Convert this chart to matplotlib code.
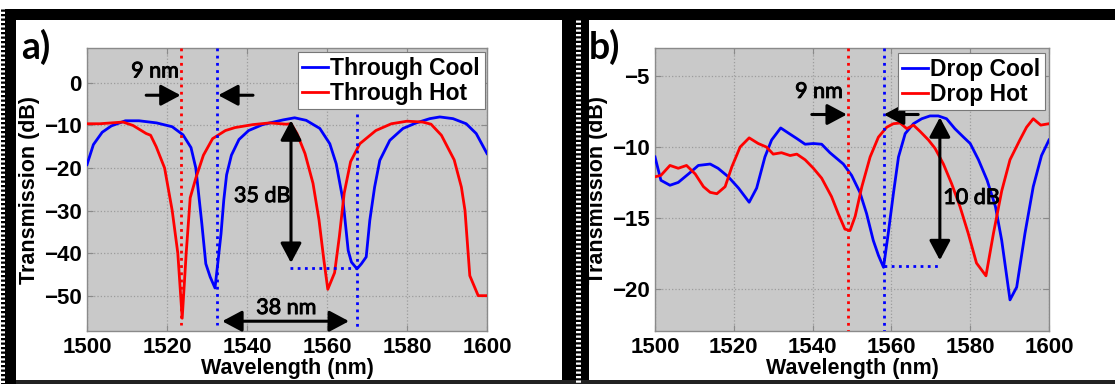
import matplotlib
matplotlib.use("Agg")
import matplotlib.pyplot as plt
import matplotlib.patheffects as pe
from matplotlib.patches import Rectangle, ArrowStyle
from matplotlib.lines import Line2D

# ---------------- data ----------------
# (a) through port
wl_through_cool = [1500, 1501.6, 1503.8, 1506.1, 1509.6, 1513, 1517.4, 1521.3, 1524, 1526,
                   1527.2, 1527.9, 1528.7, 1529.7, 1530.8, 1532, 1532.8, 1533.5, 1534.2, 1534.9,
                   1536.1, 1538, 1540.4, 1543.9, 1549, 1551.9, 1554.8, 1558.2, 1560.7, 1562.3,
                   1564, 1565.3, 1566.1, 1567.5, 1568.6, 1569.8, 1570.7, 1571.9, 1573.2, 1575.7,
                   1579, 1582.3, 1585.7, 1588.2, 1591.5, 1594.8, 1597.3, 1600]
tr_through_cool = [-19.2, -14.5, -11.6, -10.1, -8.9, -8.9, -9.4, -10.3, -12.2, -15.2,
                   -20, -26, -33, -42.5, -45.6, -48.2, -41.5, -35.5, -27.5, -21.6,
                   -17, -13.3, -11.2, -9.8, -8.7, -8.2, -8.8, -10.7, -14.3, -19,
                   -27.6, -39.4, -42.1, -43.7, -42.5, -40.9, -32.3, -24.5, -18.2, -13.5,
                   -10.7, -9.4, -8.4, -8.0, -8.4, -9.6, -11.9, -16.6]

wl_through_hot = [1500, 1503.2, 1509, 1511.5, 1514.8, 1515.9, 1517.3, 1519.4, 1521.3, 1522.7,
                  1523.8, 1524.8, 1525.8, 1527.2, 1529.1, 1531.4, 1534.6, 1537, 1541.5, 1545.7,
                  1549.8, 1551, 1552.5, 1554.5, 1556.5, 1558, 1559.2, 1560.2, 1561.9, 1563.1,
                  1564.3, 1565.9, 1568.2, 1572.2, 1576.1, 1580, 1583.9, 1586, 1588.6, 1591.8,
                  1593.6, 1594.5, 1595.7, 1597.8, 1600]
tr_through_hot = [-9.6, -9.6, -9.2, -10, -11.9, -12.3, -15, -20, -30, -40,
                  -55.3, -40, -27, -22.4, -17, -13.1, -11.2, -10.5, -9.8, -9.4,
                  -9.7, -9.6, -11.9, -16.6, -23.6, -32.2, -41.5, -48.5, -44.6, -36,
                  -25.9, -18.5, -14.3, -11.2, -9.6, -9.0, -9.2, -9.7, -12.3, -18.1,
                  -24.5, -30, -45.3, -50, -50]

# (b) drop port
wl_drop_cool = [1500, 1501.5, 1503.8, 1505.9, 1508.5, 1511, 1514, 1516, 1518.6, 1521.2,
                1523.9, 1525.8, 1527.9, 1529.6, 1531.9, 1533.8, 1536, 1538.1, 1540.2, 1542.3,
                1544.4, 1547.8, 1549.9, 1552, 1553.7, 1555.4, 1556.7, 1558, 1559.2, 1560.5,
                1561.8, 1563.5, 1565.6, 1567.7, 1569.8, 1571.9, 1574, 1576.1, 1578.3, 1580,
                1582.1, 1584.3, 1586.4, 1588, 1590.1, 1591.8, 1593.9, 1596, 1598.1, 1600]
tr_drop_cool = [-10.7, -12.35, -12.7, -12.5, -11.9, -11.3, -11.2, -11.5, -12.1, -12.9,
                -13.9, -12.9, -10.7, -9.5, -8.65, -9.0, -9.4, -9.8, -9.75, -9.8,
                -10.4, -11.2, -12.0, -13.2, -14.7, -16.6, -17.65, -18.5, -16.1, -13.3,
                -10.7, -9.05, -8.35, -8.0, -7.8, -7.8, -8.0, -8.7, -9.3, -9.75,
                -10.9, -12.35, -14.2, -16.6, -20.8, -19.9, -16.1, -12.8, -10.6, -9.5]

wl_drop_hot = [1500, 1501.5, 1503.8, 1505.9, 1508, 1510.2, 1512.3, 1514, 1515.7, 1517.8,
               1519.5, 1521.6, 1523.9, 1526.2, 1528.3, 1530, 1532.1, 1534.3, 1536, 1538.1,
               1540.2, 1542.3, 1544.8, 1546.5, 1548.2, 1549.5, 1550.8, 1552.5, 1554.6, 1556.7,
               1558.8, 1560.5, 1562.2, 1563.9, 1565.6, 1567.3, 1569.4, 1571.1, 1573.2, 1575.3,
               1577.4, 1579.5, 1581.6, 1584, 1585.9, 1588, 1590.1, 1592.6, 1594.3, 1596,
               1597.9, 1600]
tr_drop_hot = [-12.1, -12.0, -11.3, -11.5, -11.3, -11.9, -12.8, -13.2, -13.3, -12.8,
               -11.4, -10.0, -9.35, -9.75, -10.0, -10.5, -10.4, -10.6, -10.5, -10.9,
               -11.5, -12.2, -13.5, -14.7, -15.8, -15.9, -14.9, -12.8, -10.7, -9.3,
               -8.6, -8.35, -8.3, -8.7, -8.45, -8.9, -9.5, -10.1, -11.2, -12.6,
               -14.2, -16.1, -18.2, -19.1, -16.1, -13.1, -10.9, -9.5, -8.6, -8.0,
               -8.45, -8.35]

# resonance markers and annotated quantities
res_a_hot, shift_a = 1523.5, 9
res_a_cool = res_a_hot + shift_a
res_a_cool2 = 1567.5
peak_a, er_a = -8.5, 35
res_b_hot, shift_b = 1549.0, 9
res_b_cool = res_b_hot + shift_b
peak_b, er_b = -8.0, 10

x_ticks = [1500, 1520, 1540, 1560, 1580, 1600]
y_ticks_a = [-50, -40, -30, -20, -10, 0]
y_ticks_b = [-20, -15, -10, -5]
ylim_a = (-58.3, 8.2)
ylim_b = (-23, -3)

# ---------------- figure ----------------
W, H = 1115, 384
fig = plt.figure(figsize=(W / 100, H / 100), dpi=100)
fig.patch.set_facecolor("white")

TICK_FONT = "Liberation Sans"
NOTE_FONT = "Lato"
BG = "#c9c9c9"
BLUE, RED = "#0000ff", "#ff0000"


def px_box(x0, y0, x1, y1):
    return [x0 / W, 1 - y1 / H, (x1 - x0) / W, (y1 - y0) / H]


def fig_rect(x0, y0, x1, y1, color):
    fig.patches.append(Rectangle((x0 / W, 1 - y1 / H), (x1 - x0) / W, (y1 - y0) / H,
                                 transform=fig.transFigure, facecolor=color,
                                 edgecolor="none", zorder=0))


def fig_vdots(x, y0, y1, color, width_px):
    fig.add_artist(Line2D([x / W, x / W], [1 - y0 / H, 1 - y1 / H],
                          transform=fig.transFigure, color=color,
                          lw=width_px * 0.72, linestyle=(0, (0.45, 0.45)),
                          solid_capstyle="butt", dash_capstyle="butt"))


# black panel frames
fig_rect(5, 9, W, 20, "black")
fig_rect(5, 9, 16, H, "black")
fig_rect(562, 9, 589, H, "black")
fig_rect(16, 380, W, H, "#222222")
fig_vdots(2.5, 9, H, "black", 5)
fig_vdots(577.5, 20, H, "white", 5)

axA = fig.add_axes(px_box(87, 48, 487, 331))
axB = fig.add_axes(px_box(655, 48, 1049, 331))


def style_axes(ax, ylim, yticks):
    ax.set_facecolor(BG)
    ax.set_xlim(1500, 1600)
    ax.set_ylim(*ylim)
    ax.set_xticks(x_ticks)
    ax.set_yticks(yticks)
    ax.grid(True, color="#9c9c9c", linestyle=":", linewidth=0.9)
    ax.set_axisbelow(True)
    for s in ax.spines.values():
        s.set_color("#8a8a8a")
        s.set_linewidth(1.0)
    ax.tick_params(direction="in", length=4, color="#8a8a8a", top=True, right=True,
                   labelsize=16, pad=4)
    for lab in ax.get_xticklabels() + ax.get_yticklabels():
        lab.set_fontfamily(TICK_FONT)
        lab.set_fontweight("bold")
    ax.set_xlabel("Wavelength (nm)", fontsize=15.5, fontweight="bold",
                  family=TICK_FONT, labelpad=0)
    ax.set_ylabel("Transmission (dB)", fontsize=15.5, fontweight="bold",
                  family=TICK_FONT, labelpad=3)


def arrow(ax, tail, tip, double=False):
    style = ArrowStyle("<|-|>" if double else "-|>", head_length=0.6, head_width=0.32)
    ax.annotate("", xy=tip, xytext=tail,
                arrowprops=dict(arrowstyle=style, color="black", lw=2.2,
                                shrinkA=0, shrinkB=0, mutation_scale=20),
                zorder=6)


def note(ax, x, y, s):
    ax.text(x, y, s, family=NOTE_FONT, fontsize=15.5, ha="center", va="center",
            color="black", zorder=7,
            path_effects=[pe.withStroke(linewidth=0.7, foreground="black")])


dots = (0, (1, 1.6))

# ---- panel a ----
style_axes(axA, ylim_a, y_ticks_a)
axA.plot(wl_through_cool, tr_through_cool, color=BLUE, lw=2, label="Through Cool", zorder=3)
axA.plot(wl_through_hot, tr_through_hot, color=RED, lw=2, label="Through Hot", zorder=3)
axA.plot([res_a_hot, res_a_hot], [ylim_a[1], -57], color=RED, lw=2, ls=dots, zorder=4)
axA.plot([res_a_cool, res_a_cool], [ylim_a[1], -57], color=BLUE, lw=2, ls=dots, zorder=4)
axA.plot([res_a_cool2, res_a_cool2], [-7.2, ylim_a[0]], color=BLUE, lw=2, ls=dots, zorder=4)
axA.plot([1550.8, res_a_cool2], [peak_a - er_a, peak_a - er_a], color=BLUE, lw=2, ls=dots, zorder=4)
arrow(axA, (1514.8, -2.9), (res_a_hot - 0.1, -2.9))
arrow(axA, (1541.5, -2.9), (res_a_cool + 0.3, -2.9))
note(axA, 1517, 2.7, "9 nm")
arrow(axA, (1551, peak_a - 0.3), (1551, peak_a - er_a + 1.2), double=True)
note(axA, 1543.8, -26.6, "35 dB")
arrow(axA, (1533.8, -56), (1565.5, -56), double=True)
note(axA, 1549.8, -52.9, "38 nm")

# ---- panel b ----
style_axes(axB, ylim_b, y_ticks_b)
axB.plot(wl_drop_cool, tr_drop_cool, color=BLUE, lw=2, label="Drop Cool", zorder=3)
axB.plot(wl_drop_hot, tr_drop_hot, color=RED, lw=2, label="Drop Hot", zorder=3)
axB.plot([res_b_hot, res_b_hot], ylim_b[::-1], color=RED, lw=2, ls=dots, zorder=4)
axB.plot([res_b_cool, res_b_cool], ylim_b[::-1], color=BLUE, lw=2, ls=dots, zorder=4)
axB.plot([res_b_cool, 1572.3], [peak_b - er_b - 0.4, peak_b - er_b - 0.4],
         color=BLUE, lw=2, ls=dots, zorder=4)
arrow(axB, (1539.8, -7.7), (res_b_hot - 0.3, -7.7))
arrow(axB, (1566.8, -7.7), (res_b_cool + 0.1, -7.7))
note(axB, 1541.6, -6.1, "9 nm")
arrow(axB, (1572.3, peak_b + 0.1), (1572.3, peak_b - er_b), double=True)
note(axB, 1580.3, -13.6, "10 dB")

for ax, anchor in ((axA, (0.994, 0.986)), (axB, (0.99, 0.9825))):
    leg = ax.legend(loc="upper right", bbox_to_anchor=anchor, borderaxespad=0,
                    prop=dict(family=TICK_FONT, weight="bold", size=16.5),
                    handlelength=1.1, handletextpad=0.12, borderpad=0.2,
                    labelspacing=0.1, fancybox=False, framealpha=1,
                    edgecolor="#777777")
    leg.get_frame().set_linewidth(0.8)
    leg.set_zorder(8)

# panel tags
fig.text(21 / W, 1 - 59 / H, "a)", family=NOTE_FONT, fontweight="bold", fontsize=27,
         va="baseline", ha="left")
fig.text(589 / W, 1 - 59 / H, "b)", family=NOTE_FONT, fontweight="bold", fontsize=27,
         va="baseline", ha="left")

fig.savefig("out.png", dpi=100, facecolor="white")
